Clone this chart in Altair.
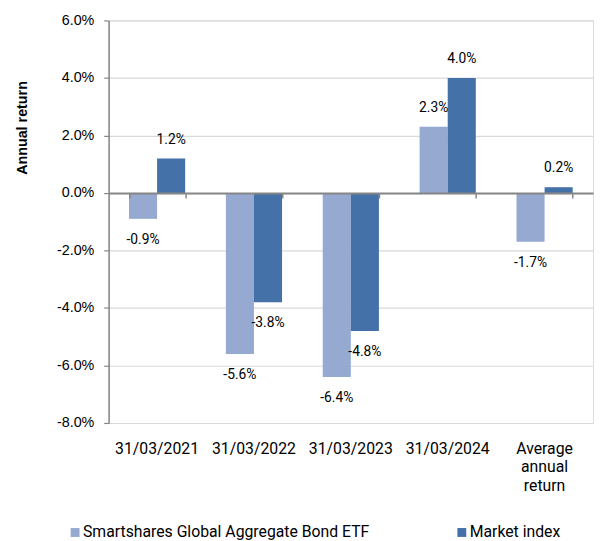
import altair as alt
import pandas as pd

categories = ["31/03/2021", "31/03/2022", "31/03/2023", "31/03/2024", "Average annual return"]
series_names = ["Smartshares Global Aggregate Bond ETF", "Market index"]
fund_returns = [-0.9, -5.6, -6.4, 2.3, -1.7]
index_returns = [1.2, -3.8, -4.8, 4.0, 0.2]
y_ticks = [-8, -6, -4, -2, 0, 2, 4, 6]
colors = ["#95A9D1", "#4472A8"]

rows = []
for c, f, m in zip(categories, fund_returns, index_returns):
    rows.append({"category": c, "series": series_names[0], "value": f})
    rows.append({"category": c, "series": series_names[1], "value": m})
df = pd.DataFrame(rows)

W, H = 491, 408
GRAY = "#868686"
PCT = "(datum.value < 0 ? '-' : '') + format(abs(datum.value), '.1f') + '%'"

x_scale = alt.Scale(domain=categories, paddingInner=0.42, paddingOuter=0.21)
y_scale = alt.Scale(domain=[-8, 6], nice=False, zero=True)
xoff = alt.XOffset("series:N", sort=series_names, scale=alt.Scale(domain=series_names))

x_main = alt.X(
    "category:N", sort=categories, scale=x_scale,
    axis=alt.Axis(
        orient="bottom", domain=False, ticks=False, tickSize=0, grid=False,
        labelPadding=18, labelFont="Roboto", labelFontSize=16, labelColor="#000000",
        labelBaseline="top", labelLineHeight=18.5, labelAngle=0, labelLimit=400,
        labelExpr="datum.label == 'Average annual return' ? ['Average', 'annual', 'return'] : datum.label",
        title=None,
    ),
)

x_zero = alt.X(
    "category:N", sort=categories, scale=x_scale,
    axis=alt.Axis(
        orient="bottom", offset=-233, labels=False, domain=True, domainColor=GRAY,
        domainWidth=2, ticks=True, tickBand="extent", tickSize=5, tickColor=GRAY,
        tickWidth=1.5, grid=False, title=None, zindex=1,
    ),
)

y_enc = alt.Y(
    "value:Q", scale=y_scale,
    axis=alt.Axis(
        values=y_ticks, labelExpr=PCT,
        grid=True, gridColor="#D9D9D9", gridWidth=1.2,
        domain=True, domainColor=GRAY, domainWidth=1.5,
        ticks=True, tickColor=GRAY, tickSize=5, tickWidth=1.2,
        labelFont="Liberation Sans", labelFontSize=14.5, labelColor="#000000", labelPadding=10,
        title="Annual return", titleFont="Liberation Sans", titleFontSize=14.5,
        titleFontWeight="bold", titleColor="#000000", titleAngle=270,
        titleX=-87.5, titleY=108.5, titleAlign="center", titleBaseline="middle",
    ),
)

bars = alt.Chart(df).mark_bar().encode(
    x=x_main,
    xOffset=xoff,
    y=y_enc,
    color=alt.Color(
        "series:N", sort=series_names,
        scale=alt.Scale(domain=series_names, range=colors),
        legend=alt.Legend(
            orient="none", legendX=-42, legendY=511, direction="horizontal", title=None,
            symbolType="square", symbolSize=81, symbolStrokeWidth=0,
            labelFont="Roboto", labelFontSize=16, labelColor="#000000",
            labelOffset=0, columnPadding=85, labelLimit=400,
        ),
    ),
)

base_text = alt.Chart(df).transform_calculate(label=PCT)

labels_pos = base_text.transform_filter("datum.value >= 0").mark_text(
    dy=-19, baseline="middle", fontSize=14, font="Roboto", color="#000000"
).encode(x=x_zero, xOffset=xoff, y=alt.Y("value:Q", scale=y_scale), text="label:N")

labels_neg = base_text.transform_filter("datum.value < 0").mark_text(
    dy=21, baseline="middle", fontSize=14, font="Roboto", color="#000000"
).encode(
    x=alt.X("category:N", sort=categories, scale=x_scale, axis=None),
    xOffset=xoff, y=alt.Y("value:Q", scale=y_scale), text="label:N",
)

chart = alt.layer(bars, labels_pos, labels_neg).resolve_axis(x="independent").properties(
    width=W, height=H,
    padding={"left": 102, "top": 9, "right": 2, "bottom": 116},
    autosize=alt.AutoSizeParams(type="none"),
).configure_view(strokeWidth=0).configure(font="Roboto")

chart.save("out.html", embed_options={"renderer": "svg", "actions": False})
